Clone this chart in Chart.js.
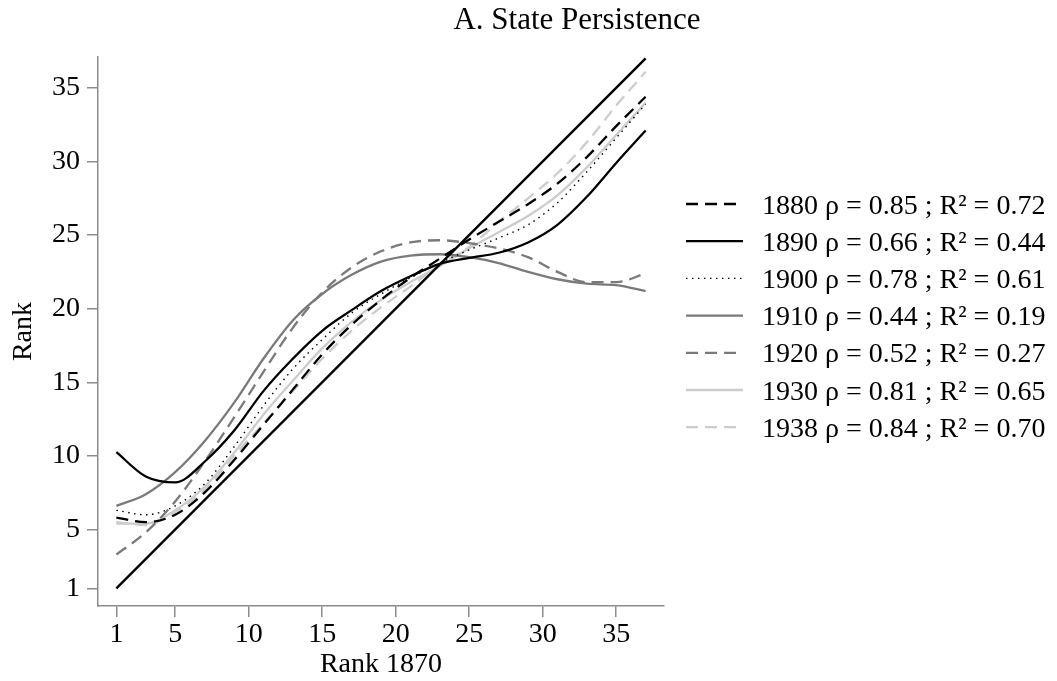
<!DOCTYPE html>
<html>
<head>
<meta charset="utf-8">
<script src="https://cdn.jsdelivr.net/npm/chart.js@4"></script>
<style>
  html, body { margin: 0; padding: 0; background: #fff; }
  #chart { display: block; }
</style>
</head>
<body>
<canvas id="chart" width="1057" height="681"></canvas>
<script>
const title_text = 'A. State Persistence'
const x_title = 'Rank 1870'
const y_title = 'Rank'

const x_ticks = [1, 5, 10, 15, 20, 25, 30, 35]
const y_ticks = [1, 5, 10, 15, 20, 25, 30, 35]

const rank_1870 = [1, 3, 5, 7, 9, 11, 13, 15, 17, 19, 21, 23, 25, 27, 29, 31, 33, 35, 37]

const rank_1880 = [5.8, 5.5, 6.0, 7.5, 9.7, 12.1, 14.5, 16.9, 18.9, 20.6, 22.1, 23.4, 24.7, 25.9, 27.1, 28.5, 30.3, 32.4, 34.4]
const rank_1890 = [10.25, 8.6, 8.2, 9.6, 11.7, 14.4, 16.6, 18.5, 19.9, 21.2, 22.2, 23.05, 23.45, 23.8, 24.5, 25.7, 27.6, 29.9, 32.1]
const rank_1900 = [6.3, 6.0, 6.6, 8.1, 10.6, 13.4, 15.9, 17.9, 19.7, 21.0, 22.1, 23.1, 24.0, 24.8, 25.7, 27.2, 29.3, 31.6, 33.9]
const rank_1910 = [6.6, 7.4, 8.9, 11.0, 13.6, 16.6, 19.2, 21.0, 22.3, 23.2, 23.6, 23.7, 23.5, 23.1, 22.5, 22.0, 21.7, 21.6, 21.2]
const rank_1920 = [3.3, 4.8, 6.9, 9.6, 12.6, 15.7, 18.7, 21.1, 22.8, 23.9, 24.5, 24.65, 24.45, 24.1, 23.5, 22.5, 21.8, 21.8, 22.4]
const rank_1930 = [5.4, 5.4, 6.3, 7.9, 10.2, 12.8, 15.1, 17.3, 19.1, 20.6, 21.8, 22.9, 24.1, 25.2, 26.3, 27.7, 29.6, 31.8, 34.0]
const rank_1938 = [5.5, 5.3, 6.2, 7.7, 10.0, 12.2, 14.4, 16.6, 18.5, 20.1, 21.5, 23.0, 24.2, 25.9, 27.5, 29.2, 31.3, 33.8, 36.1]

// 45 degree reference line
const diag_x = [1, 37]
const diag_y = [1, 37]

const legend_labels = [
    '1880 ρ = 0.85 ; R² = 0.72',
    '1890 ρ = 0.66 ; R² = 0.44',
    '1900 ρ = 0.78 ; R² = 0.61',
    '1910 ρ = 0.44 ; R² = 0.19',
    '1920 ρ = 0.52 ; R² = 0.27',
    '1930 ρ = 0.81 ; R² = 0.65',
    '1938 ρ = 0.84 ; R² = 0.70',
]

const serif = '"Liberation Serif", "Times New Roman", serif'
const axis_grey = '#8c8c8c'
const mid_grey = '#7a7a7a'
const light_grey = '#cccccc'

function to_points(xs, ys) {
    return xs.map((x, i) => { return { x: x, y: ys[i] } })
}

function curve(label, ys, color, dash, width) {
    return {
        label: label,
        data: to_points(rank_1870, ys),
        borderColor: color,
        borderDash: dash,
        borderWidth: width,
        pointRadius: 0,
        fill: false,
        cubicInterpolationMode: 'monotone',
        in_legend: true,
    }
}

const datasets = [
    {
        label: '45 degree',
        data: to_points(diag_x, diag_y),
        borderColor: '#000',
        borderWidth: 2.4,
        pointRadius: 0,
        fill: false,
        in_legend: false,
    },
    curve(legend_labels[0], rank_1880, '#000', [12, 7], 2.3),
    curve(legend_labels[1], rank_1890, '#000', [], 2.3),
    curve(legend_labels[2], rank_1900, '#000', [1.5, 4.5], 1.4),
    curve(legend_labels[3], rank_1910, mid_grey, [], 2.3),
    curve(legend_labels[4], rank_1920, mid_grey, [12, 7], 2.3),
    curve(legend_labels[5], rank_1930, light_grey, [], 2.3),
    curve(legend_labels[6], rank_1938, light_grey, [12, 7], 2.3),
]

// title and legend sit off the plot, so they are drawn here
const side_text = {
    id: 'side_text',
    afterDraw(chart) {
        const c = chart.ctx
        c.save()
        c.fillStyle = '#000'
        c.font = '31px ' + serif
        c.textAlign = 'center'
        c.textBaseline = 'alphabetic'
        c.fillText(title_text, 577, 29)

        c.font = '28px ' + serif
        c.textAlign = 'left'
        let row = 0
        chart.data.datasets.forEach((ds) => {
            if (!ds.in_legend) return
            const base = 213.5 + row * 37.2
            const mid = base - 9.5
            c.beginPath()
            c.strokeStyle = ds.borderColor
            c.lineWidth = ds.borderWidth
            c.setLineDash(ds.borderDash)
            c.moveTo(686, mid)
            c.lineTo(743, mid)
            c.stroke()
            c.setLineDash([])
            c.fillText(ds.label, 762, base)
            row++
        })
        c.restore()
    }
}

const chart = new Chart(document.querySelector('#chart'), {
    type: 'line',
    data: { datasets: datasets },
    options: {
        responsive: false,
        animation: false,
        devicePixelRatio: 1,
        layout: {
            padding: { top: 57, right: 393, left: 0, bottom: 0 },
        },
        plugins: {
            legend: { display: false },
            title: { display: false },
            tooltip: { enabled: false },
        },
        scales: {
            x: {
                type: 'linear',
                min: -0.25,
                max: 38.25,
                afterBuildTicks: (scale) => {
                    scale.ticks = x_ticks.map((v) => { return { value: v } })
                },
                afterFit: (scale) => { scale.height = 75 },
                grid: {
                    drawOnChartArea: false,
                    drawTicks: true,
                    tickLength: 11,
                    color: axis_grey,
                    lineWidth: 1.5,
                },
                border: { display: true, color: axis_grey, width: 1.5 },
                ticks: {
                    autoSkip: false,
                    maxRotation: 0,
                    padding: 1,
                    color: '#000',
                    font: { family: serif, size: 28 },
                },
                title: {
                    display: true,
                    text: x_title,
                    color: '#000',
                    font: { family: serif, size: 28 },
                    padding: { top: 0, bottom: 0 },
                },
            },
            y: {
                type: 'linear',
                min: -0.2,
                max: 37.1,
                afterBuildTicks: (scale) => {
                    scale.ticks = y_ticks.map((v) => { return { value: v } })
                },
                afterFit: (scale) => { scale.width = 98 },
                grid: {
                    drawOnChartArea: false,
                    drawTicks: true,
                    tickLength: 11,
                    color: axis_grey,
                    lineWidth: 1.5,
                },
                border: { display: true, color: axis_grey, width: 1.5 },
                ticks: {
                    autoSkip: false,
                    padding: 7,
                    color: '#000',
                    font: { family: serif, size: 28 },
                },
                title: {
                    display: true,
                    text: y_title,
                    color: '#000',
                    font: { family: serif, size: 28 },
                    padding: { top: 7, bottom: 0 },
                },
            },
        },
    },
    plugins: [side_text],
});
</script>
</body>
</html>
